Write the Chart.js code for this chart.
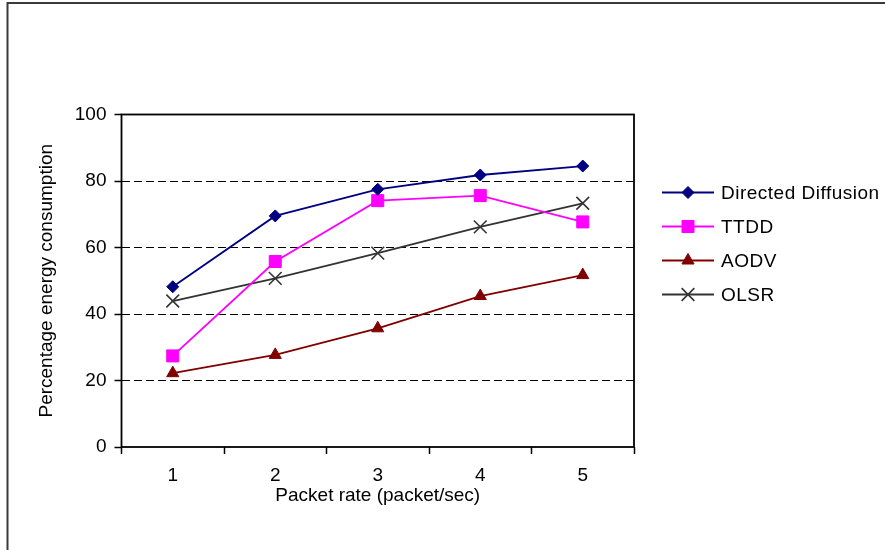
<!DOCTYPE html>
<html>
<head>
<meta charset="utf-8">
<script src="https://cdn.jsdelivr.net/npm/chart.js@4.4.0/dist/chart.umd.min.js"></script>
<style>
    html, body { margin: 0; padding: 0; background: #fff; }
</style>
</head>
<body>
<canvas id="energyChart" width="885" height="550"></canvas>
<script>
// values
var packetRates = ['1', '2', '3', '4', '5'];
var directedDiffusion = [48.2, 69.5, 77.5, 81.8, 84.5];
var ttdd = [27.4, 55.8, 74.1, 75.6, 67.7];
var aodv = [22.2, 27.7, 35.7, 45.4, 51.7];
var olsr = [43.9, 50.7, 58.3, 66.2, 73.3];
var yTicks = [0, 20, 40, 60, 80, 100];

Chart.defaults.font.family = '"Liberation Sans", Arial, sans-serif';
Chart.defaults.font.size = 19;
Chart.defaults.color = '#000';

// frame around the figure, box around the plot and the legend on the right
var framePlugin = {
    id: 'frameAndLegend',
    afterDraw: function (chart) {
        var ctx = chart.ctx;
        var area = chart.chartArea;
        ctx.save();

        // outer frame (only left and top edges show)
        ctx.strokeStyle = '#3a3a3a';
        ctx.lineWidth = 2;
        ctx.beginPath();
        ctx.moveTo(7.5, 550);
        ctx.lineTo(7.5, 3);
        ctx.lineTo(885, 3);
        ctx.stroke();

        // plot box
        ctx.strokeStyle = '#000';
        ctx.lineWidth = 1.8;
        ctx.strokeRect(area.left, area.top, area.right - area.left, area.bottom - area.top);

        // legend
        var drawPoint = Chart.helpers && Chart.helpers.drawPoint;
        chart.data.datasets.forEach(function (ds, i) {
            var y = 192.5 + i * 34;
            ctx.strokeStyle = ds.borderColor;
            ctx.lineWidth = ds.borderWidth;
            ctx.beginPath();
            ctx.moveTo(662, y);
            ctx.lineTo(714, y);
            ctx.stroke();
            ctx.fillStyle = ds.backgroundColor;
            ctx.strokeStyle = ds.borderColor;
            ctx.lineWidth = ds.pointBorderWidth;
            if (drawPoint) {
                drawPoint(ctx, { pointStyle: ds.pointStyle, radius: ds.pointRadius, rotation: 0, borderWidth: ds.pointBorderWidth }, 688, y);
            }
            ctx.fillStyle = '#000';
            ctx.font = '19px "Liberation Sans", Arial, sans-serif';
            ctx.letterSpacing = '0.5px';
            ctx.textBaseline = 'middle';
            ctx.textAlign = 'left';
            ctx.fillText(ds.label, 721, y + 1);
        });
        ctx.restore();
    }
};

var ctx = document.getElementById('energyChart').getContext('2d');
new Chart(ctx, {
    type: 'line',
    data: {
        labels: packetRates,
        datasets: [{
            label: 'Directed Diffusion',
            data: directedDiffusion,
            borderColor: '#000080',
            backgroundColor: '#000080',
            borderWidth: 1.8,
            pointStyle: 'rectRot',
            pointRadius: 6,
            pointBorderWidth: 1,
            tension: 0
        }, {
            label: 'TTDD',
            data: ttdd,
            borderColor: '#ff00ff',
            backgroundColor: '#ff00ff',
            borderWidth: 1.8,
            pointStyle: 'rect',
            pointRadius: 8.5,
            pointBorderWidth: 1,
            tension: 0
        }, {
            label: 'AODV',
            data: aodv,
            borderColor: '#800000',
            backgroundColor: '#800000',
            borderWidth: 1.8,
            pointStyle: 'triangle',
            pointRadius: 7,
            pointBorderWidth: 1,
            tension: 0
        }, {
            label: 'OLSR',
            data: olsr,
            borderColor: '#333333',
            backgroundColor: '#333333',
            borderWidth: 1.8,
            pointStyle: 'crossRot',
            pointRadius: 9,
            pointBorderWidth: 1.6,
            tension: 0
        }]
    },
    options: {
        responsive: false,
        animation: false,
        layout: {
            padding: { left: 0, top: 114.5, right: 251, bottom: 0 }
        },
        plugins: {
            legend: { display: false },
            tooltip: { enabled: false }
        },
        scales: {
            x: {
                offset: true,
                grid: {
                    offset: true,
                    drawOnChartArea: false,
                    tickLength: 7,
                    tickColor: '#000',
                    tickWidth: 1.5
                },
                border: { display: false },
                ticks: { padding: 10, color: '#000' },
                title: {
                    display: true,
                    text: 'Packet rate (packet/sec)',
                    color: '#000',
                    padding: { top: 0, bottom: 43 }
                },
                afterFit: function (scale) { scale.height = 103; }
            },
            y: {
                min: 0,
                max: 100,
                afterBuildTicks: function (scale) {
                    scale.ticks = yTicks.map(function (v) { return { value: v }; });
                },
                grid: {
                    color: function (c) {
                        return (c.tick && (c.tick.value === 0 || c.tick.value === 100)) ? 'rgba(0,0,0,0)' : '#000';
                    },
                    lineWidth: 1,
                    tickLength: 7,
                    tickColor: '#000',
                    tickWidth: 1.5,
                    tickBorderDash: []
                },
                border: { display: false, dash: [8, 4] },
                ticks: { padding: 8, color: '#000' },
                title: {
                    display: true,
                    text: 'Percentage energy consumption',
                    color: '#000',
                    padding: { top: 35, bottom: 0 }
                },
                afterFit: function (scale) { scale.width = 121.5; }
            }
        }
    },
    plugins: [framePlugin]
});
</script>
</body>
</html>
